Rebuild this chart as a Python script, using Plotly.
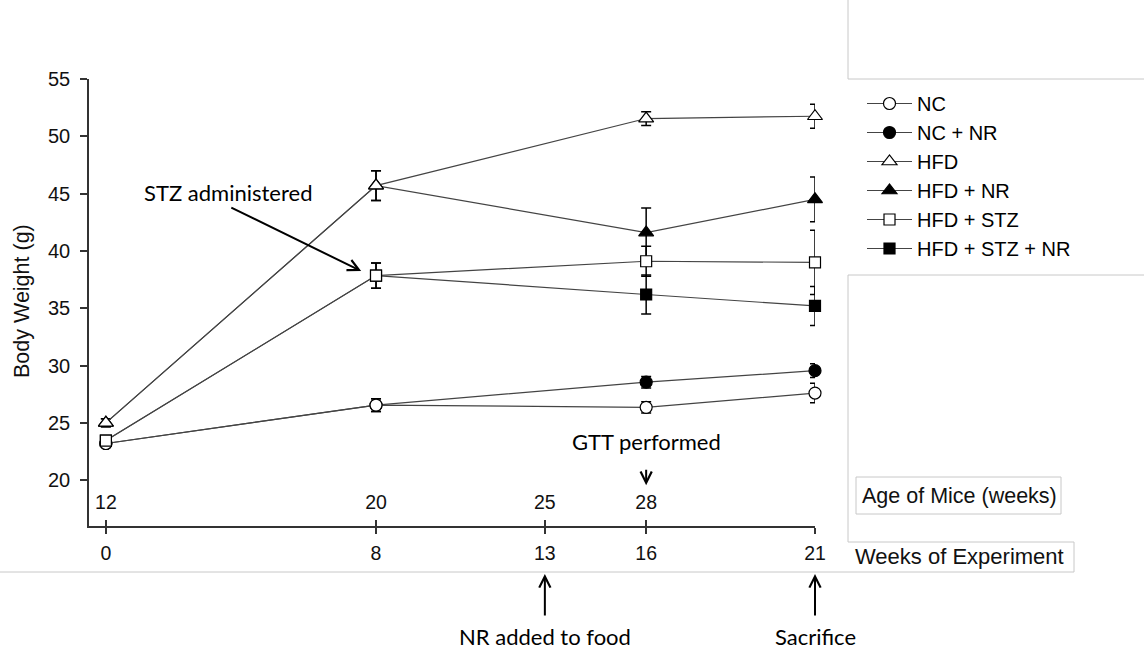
import plotly.graph_objects as go

# ---------------- data ----------------
weeks = [0, 8, 16, 21]
week_ticks = [0, 8, 13, 16, 21]
age_ticks = ["12", "20", "25", "28", "33"]
y_ticks = [20, 25, 30, 35, 40, 45, 50, 55]

nc = [23.2, 26.55, 26.35, 27.6]
nc_err = [0.3, 0.55, 0.5, 0.85]
nc_nr = [23.2, 26.55, 28.55, 29.55]
nc_nr_err = [0.3, 0.55, 0.5, 0.6]
hfd = [25.0, 45.7, 51.55, 51.75]
hfd_err = [0.35, 1.3, 0.6, 1.05]
hfd_nr = [25.0, 45.7, 41.6, 44.5]
hfd_nr_err = [0.35, 1.3, 2.15, 1.95]
hfd_stz = [23.45, 37.85, 39.1, 39.0]
hfd_stz_err = [0.4, 1.1, 1.3, 2.8]
hfd_stz_nr = [23.45, 37.85, 36.2, 35.2]
hfd_stz_nr_err = [0.4, 1.1, 1.7, 1.7]

# ---------------- layout geometry (pixels) ----------------
W, H = 1144, 656
PL, PR, PT, PB = 89, 815, 79, 526  # plot area edges


def px(x):
    return (x - PL) / (PR - PL)


def py(y):
    return (PB - y) / (PB - PT)


AX = "Liberation Sans, Arial, sans-serif"
CAL = "Lato, Carlito, Calibri, sans-serif"
LINE = "#444444"
BOX = "#c8c8c8"

fig = go.Figure()

series = [
    # name, y, err, symbol, rank  (NR groups drawn first so open markers sit on top)
    ("NC + NR", nc_nr, nc_nr_err, "circle", 2),
    ("HFD + NR", hfd_nr, hfd_nr_err, "triangle-up", 4),
    ("HFD + STZ + NR", hfd_stz_nr, hfd_stz_nr_err, "square", 6),
    ("NC", nc, nc_err, "circle-open", 1),
    ("HFD", hfd, hfd_err, "triangle-up-open", 3),
    ("HFD + STZ", hfd_stz, hfd_stz_err, "square-open", 5),
]

for name, ys, err, sym, rank in series:
    filled = "open" not in sym
    base = sym.replace("-open", "")
    size = 12 if base != "square" else 11
    if base == "triangle-up":
        size = 13
    fig.add_trace(go.Scatter(
        x=weeks, y=ys, name=name, mode="lines+markers",
        legendrank=rank,
        line=dict(color=LINE, width=1.2),
        marker=dict(symbol=base, size=size,
                    color="black" if filled else "white",
                    line=dict(color="black", width=1.2)),
        error_y=dict(type="data", array=err, visible=True,
                     color="black", thickness=1.5, width=5),
        cliponaxis=False,
    ))

# dummy trace for the secondary (age) axis
fig.add_trace(go.Scatter(x=[None], y=[None], xaxis="x2", showlegend=False,
                         hoverinfo="skip"))

shapes = []


def seg(x0, y0, x1, y1, color=BOX, w=1):
    shapes.append(dict(type="line", xref="paper", yref="paper",
                       x0=px(x0), y0=py(y0), x1=px(x1), y1=py(y1),
                       line=dict(color=color, width=w)))


# light gray boxes
seg(848, 0, 848, 79)
seg(848, 79, W, 79)
seg(848, 275, W, 275)
seg(848, 275, 848, 542)
seg(848, 542, 1074, 542)
seg(1074, 542, 1074, 572)
seg(0, 572, 1074, 572)
shapes.append(dict(type="rect", xref="paper", yref="paper",
                   x0=px(856), x1=px(1061), y0=py(477), y1=py(514),
                   line=dict(color=BOX, width=1)))

annotations = []
arrow = dict(showarrow=True, text="", arrowhead=5, arrowsize=1.1, arrowwidth=2,
             arrowcolor="black")
# arrows
annotations.append(dict(x=7.56, y=38.24, xref="x", yref="y", ax=3.67, ay=43.85,
                        axref="x", ayref="y", **arrow))
annotations.append(dict(x=16, y=19.56, xref="x", yref="y", ax=0, ay=-17, **arrow))
for xv in (13, 21):
    annotations.append(dict(x=xv, y=py(574), xref="x", yref="paper", ax=0, ay=43, **arrow))

# texts
tf = dict(family=CAL, size=22, color="black")
C = dict(showarrow=False, xanchor="center", yanchor="middle")
annotations.append(dict(x=3.61, y=45.14, xref="x", yref="y", text="STZ administered",
                        font=tf, **C))
annotations.append(dict(x=16, y=23.4, xref="x", yref="y", text="GTT performed",
                        font=tf, **C))
annotations.append(dict(x=13, y=py(636), xref="x", yref="paper", text="NR added to food",
                        font=tf, **C))
annotations.append(dict(x=21, y=py(636), xref="x", yref="paper", text="Sacrifice",
                        font=tf, **C))
af = dict(family=AX, size=21.5, color="#111")
annotations.append(dict(x=px(959), y=py(496), xref="paper", yref="paper",
                        text="Age of Mice (weeks)", font=af, **C))
annotations.append(dict(x=px(853), y=py(556), xref="paper", yref="paper",
                        xanchor="left", yanchor="middle", showarrow=False,
                        text="Weeks of Experiment", font=dict(family=AX, size=22, color="#111")))
annotations.append(dict(x=px(22), y=py(301), xref="paper", yref="paper",
                        text="Body Weight (g)", textangle=-90,
                        font=dict(family=AX, size=21.5, color="#111"), **C))

fig.update_layout(
    width=W, height=H,
    margin=dict(l=PL, r=W - PR, t=PT, b=H - PB),
    paper_bgcolor="white", plot_bgcolor="white",
    showlegend=True,
    legend=dict(x=px(862), y=py(84), xanchor="left", yanchor="top",
                itemwidth=45,
                font=dict(family=AX, size=20, color="black"),
                bgcolor="rgba(0,0,0,0)", borderwidth=0),
    xaxis=dict(range=[-0.5, 21], tickvals=week_ticks, ticktext=[str(v) for v in week_ticks],
               ticks="outside", ticklen=6, tickwidth=1.5, tickcolor="#333",
               showline=True, linecolor="#333", linewidth=1.5,
               showgrid=False, zeroline=False,
               tickfont=dict(family=AX, size=19.5, color="#111"),
               ticklabelstandoff=3),
    xaxis2=dict(overlaying="x", anchor="y", side="bottom", range=[-0.5, 21],
                tickvals=week_ticks, ticktext=age_ticks,
                ticks="inside", ticklen=6, tickwidth=1.5, tickcolor="#333",
                ticklabelposition="inside", showline=False,
                showgrid=False, zeroline=False,
                tickfont=dict(family=AX, size=19.5, color="#111"),
                ticklabelstandoff=8),
    yaxis=dict(range=[16, 55], tickvals=y_ticks,
               ticks="outside", ticklen=7, tickwidth=1.5, tickcolor="#333",
               showline=True, linecolor="#333", linewidth=1.5,
               showgrid=False, zeroline=False,
               tickfont=dict(family=AX, size=20, color="#111"),
               ticklabelstandoff=6),
    shapes=shapes, annotations=annotations,
)

fig.write_html("out.html", config={"displayModeBar": False},
               post_script="document.body.style.margin='0';document.body.style.overflow='hidden';")
